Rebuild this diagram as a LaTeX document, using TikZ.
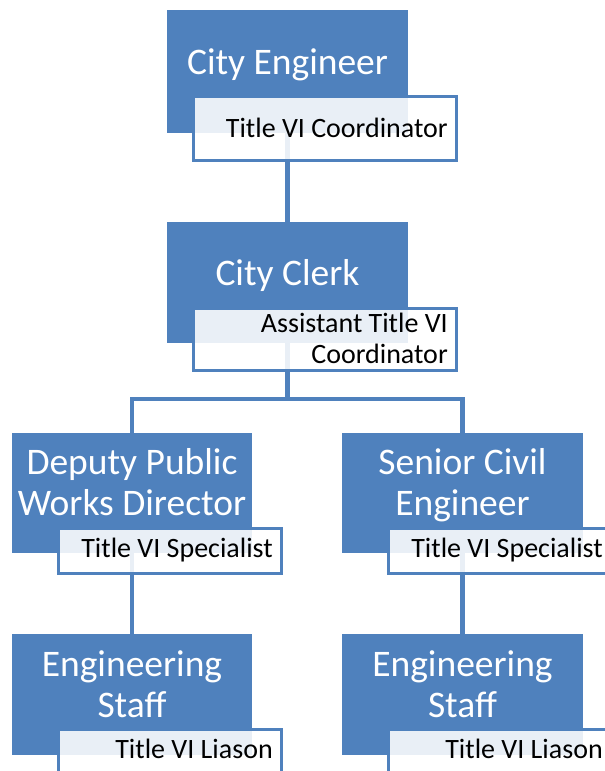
\documentclass[tikz,border=0pt]{standalone}
\usepackage{fontspec}
\setmainfont{Carlito}
\definecolor{acc}{HTML}{4F81BD}
\tikzset{
  bluebox/.style={fill=acc, draw=none, anchor=north west, inner sep=0pt, outer sep=0pt},
  subbox/.style={fill=white, fill opacity=0.88, draw=acc, draw opacity=1, line width=3pt, anchor=north west, inner sep=0pt, outer sep=0pt},
  maintext/.style={text=white, font=\fontsize{37.5}{40.5}\selectfont, align=center, inner sep=0pt, anchor=base},
  subtext/.style={text=black, font=\fontsize{28}{31}\selectfont, align=right, inner sep=0pt, anchor=base east},
  conn/.style={draw=acc, line width=4.5pt}
}
\begin{document}
\begin{tikzpicture}[x=1pt,y=-1pt]
\useasboundingbox (0,0) rectangle (605,771);
\clip (0,0) rectangle (605,771);
% blue boxes
\node[bluebox, minimum width=241pt, minimum height=123pt] (ce) at (167,10) {};
\node[bluebox, minimum width=241pt, minimum height=121pt] (cc) at (167,222) {};
\node[bluebox, minimum width=240pt, minimum height=120pt] (dp) at (12,433) {};
\node[bluebox, minimum width=241pt, minimum height=120pt] (sc) at (342,433) {};
\node[bluebox, minimum width=240pt, minimum height=121pt] (es1) at (12,634) {};
\node[bluebox, minimum width=241pt, minimum height=121pt] (es2) at (342,634) {};
% connectors
\draw[conn] (ce.south) -- (cc.north);
\coordinate (hb) at (287.5,399);
\draw[conn, line join=miter] (cc.south) -- (hb) -| (dp.north);
\draw[conn, line join=miter] (hb) -| (sc.north);
\draw[conn] (dp.south) -- (es1.north);
\draw[conn] (sc.south) -- (es2.north);
% sub boxes
\node[subbox, minimum width=263pt, minimum height=64pt] (s1) at (193.5,96.5) {};
\node[subbox, minimum width=263pt, minimum height=62pt] (s2) at (193.5,308.5) {};
\node[subbox, minimum width=223pt, minimum height=45pt] (s3) at (58.5,528.5) {};
\node[subbox, minimum width=223pt, minimum height=45pt] (s4) at (388.5,528.5) {};
\node[subbox, minimum width=223pt, minimum height=45pt] (s5) at (58.5,729.5) {};
\node[subbox, minimum width=223pt, minimum height=45pt] (s6) at (388.5,729.5) {};
% main texts (base = baseline of last line)
\node[maintext] (t1) at (287.5,74) {City Engineer};
\node[maintext] (t2) at (287.5,285) {City Clerk};
\node[maintext] (t3) at (132,515) {Deputy Public\\Works Director};
\node[maintext] (t4) at (462.5,515) {Senior Civil\\Engineer};
\node[maintext] (t5) at (132,717) {Engineering\\Staff};
\node[maintext] (t6) at (462.5,717) {Engineering\\Staff};
% sub texts
\node[subtext] (u1) at (448,137) {Title VI Coordinator};
\node[subtext] (u2) at (448,363) {Assistant Title VI\\Coordinator};
\node[subtext] (u3) at (273,557) {Title VI Specialist};
\node[subtext] (u4) at (603,557) {Title VI Specialist};
\node[subtext] (u5) at (273,758) {Title VI Liason};
\node[subtext] (u6) at (603,758) {Title VI Liason};
\end{tikzpicture}
\end{document}
